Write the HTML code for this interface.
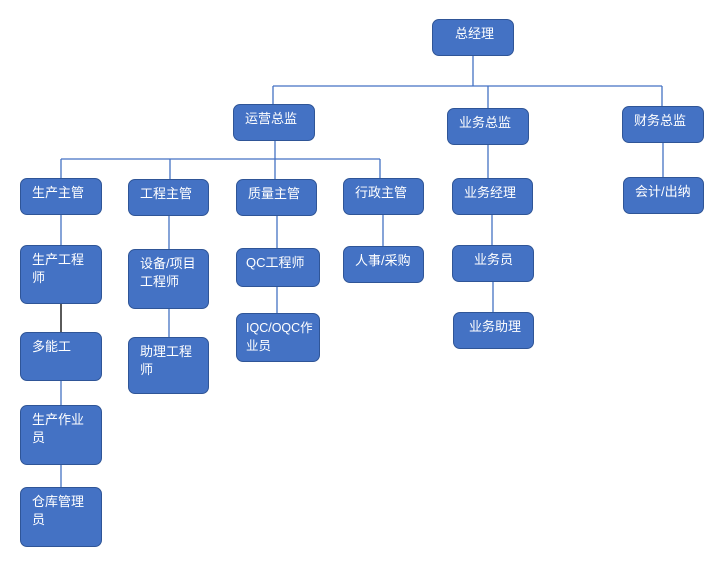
<!DOCTYPE html>
<html><head><meta charset="utf-8"><style>
body{margin:0;width:721px;height:561px;background:#fff;position:relative;overflow:hidden;font-family:"Liberation Sans","Noto Sans CJK SC",sans-serif}
.b{position:absolute;box-sizing:border-box;background:#4472C4;border:1px solid #2F5597;border-radius:7px;color:#fff;font-size:13px;line-height:18px;padding:5px 10px 0 11px;white-space:nowrap}
svg{position:absolute;left:0;top:0}
</style></head><body>
<svg width="721" height="561"><g stroke="#4472C4" stroke-width="1.3" fill="none">
<path d="M473 56V86M273 86H662M273 86V104M488 86V108M662 86V106"/>
<path d="M275 141V159M61 159H380M61 159V178M170 159V179M275 159V179M380 159V178"/>
<path d="M488 145V178M663 143V177M61 215V245M61 381V405M61 465V487M169 216V249M169 309V337M277 216V248M277 287V313M383 215V246M492 215V245M493 282V312"/>
</g><path d="M61 304V332" stroke="#000" stroke-width="1.3"/></svg>
<div class="b" style="left:432px;top:19px;width:82px;height:37px;padding-left:22px">总经理</div>
<div class="b" style="left:233px;top:104px;width:82px;height:37px">运营总监</div>
<div class="b" style="left:447px;top:108px;width:82px;height:37px">业务总监</div>
<div class="b" style="left:622px;top:106px;width:82px;height:37px">财务总监</div>
<div class="b" style="left:20px;top:178px;width:82px;height:37px">生产主管</div>
<div class="b" style="left:128px;top:179px;width:81px;height:37px">工程主管</div>
<div class="b" style="left:236px;top:179px;width:81px;height:37px">质量主管</div>
<div class="b" style="left:343px;top:178px;width:81px;height:37px">行政主管</div>
<div class="b" style="left:452px;top:178px;width:81px;height:37px">业务经理</div>
<div class="b" style="left:623px;top:177px;width:81px;height:37px">会计/出纳</div>
<div class="b" style="left:20px;top:245px;width:82px;height:59px">生产工程<br>师</div>
<div class="b" style="left:128px;top:249px;width:81px;height:60px">设备/项目<br>工程师</div>
<div class="b" style="left:236px;top:248px;width:84px;height:39px;padding-left:9px">QC工程师</div>
<div class="b" style="left:343px;top:246px;width:81px;height:37px">人事/采购</div>
<div class="b" style="left:452px;top:245px;width:82px;height:37px;padding-left:21px">业务员</div>
<div class="b" style="left:236px;top:313px;width:84px;height:49px;padding:5px 0 0 9px;font-size:12.5px">IQC/OQC作<br>业员</div>
<div class="b" style="left:20px;top:332px;width:82px;height:49px">多能工</div>
<div class="b" style="left:128px;top:337px;width:81px;height:57px">助理工程<br>师</div>
<div class="b" style="left:453px;top:312px;width:81px;height:37px;padding-left:15px">业务助理</div>
<div class="b" style="left:20px;top:405px;width:82px;height:60px">生产作业<br>员</div>
<div class="b" style="left:20px;top:487px;width:82px;height:60px">仓库管理<br>员</div>
</body></html>
